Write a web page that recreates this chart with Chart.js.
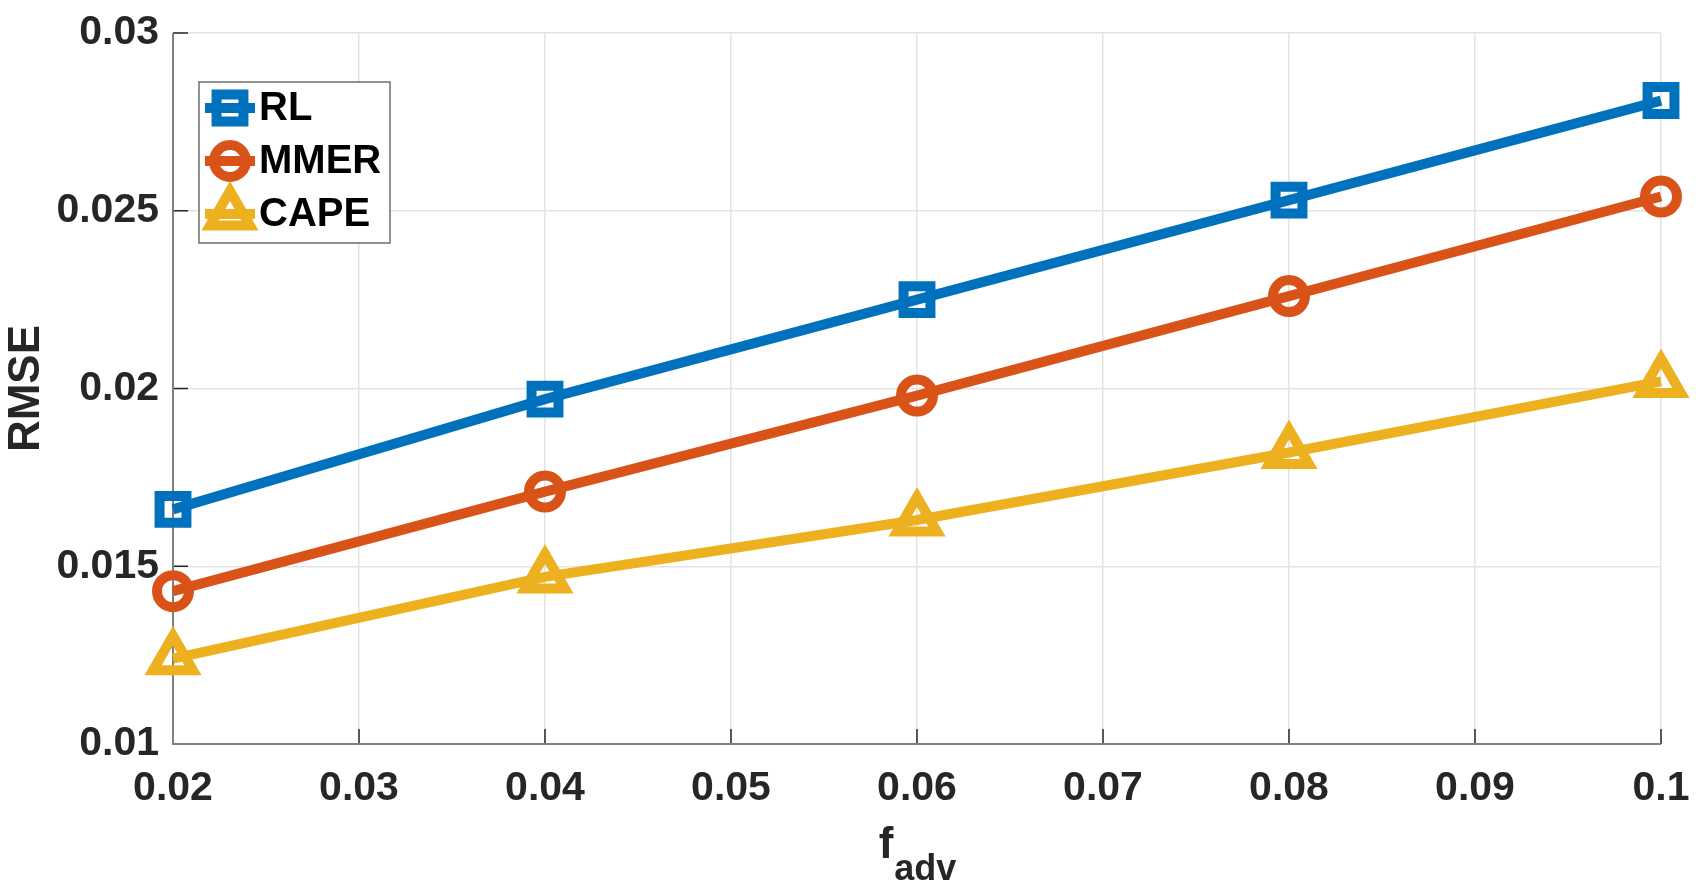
<!DOCTYPE html>
<html lang="en">
<head>
    <meta charset="UTF-8">
    <title>RMSE vs f_adv</title>
    <script src="https://cdn.jsdelivr.net/npm/chart.js"></script>
    <style>
        * {
            margin: 0;
            padding: 0;
            box-sizing: border-box;
        }
        body {
            background: #ffffff;
            width: 1699px;
            height: 887px;
            overflow: hidden;
        }
        #chart {
            display: block;
        }
    </style>
</head>
<body>
    <canvas id="chart" width="1699" height="887"></canvas>
    <script>
        // values
        const fAdv = [0.02, 0.04, 0.06, 0.08, 0.1];
        const rlValues = [0.0166, 0.0197, 0.0225, 0.0253, 0.0281];
        const mmerValues = [0.0143, 0.0171, 0.0198, 0.0226, 0.0254];
        const capeValues = [0.0124, 0.0147, 0.0163, 0.0182, 0.0202];
        const seriesNames = ['RL', 'MMER', 'CAPE'];

        const xTicks = [0.02, 0.03, 0.04, 0.05, 0.06, 0.07, 0.08, 0.09, 0.1];
        const xTickLabels = ['0.02', '0.03', '0.04', '0.05', '0.06', '0.07', '0.08', '0.09', '0.1'];
        const yTicks = [0.01, 0.015, 0.02, 0.025, 0.03];
        const yTickLabels = ['0.01', '0.015', '0.02', '0.025', '0.03'];

        const FONT = "'Liberation Sans', Arial, sans-serif";
        const TXT = '#262626';
        const AXIS = '#7f7f7f';

        function toPoints(ys) {
            return fAdv.map((x, i) => ({ x: x, y: ys[i] }));
        }

        function makeSet(label, values, color, style, radius) {
            return {
                label: label,
                data: toPoints(values),
                borderColor: color,
                backgroundColor: color,
                borderWidth: 10,
                pointStyle: style,
                pointRadius: radius,
                pointHoverRadius: radius,
                pointBorderWidth: 10,
                pointBorderColor: color,
                pointBackgroundColor: 'rgba(0,0,0,0)',
                tension: 0,
                clip: false
            };
        }

        // inward tick marks, like the original figure
        const innerTicks = {
            id: 'innerTicks',
            beforeDatasetsDraw(chart) {
                const ctx = chart.ctx;
                const area = chart.chartArea;
                const xs = chart.scales.x;
                const ys = chart.scales.y;
                ctx.save();
                ctx.strokeStyle = TXT;
                ctx.lineWidth = 1.5;
                ctx.beginPath();
                xTicks.forEach(v => {
                    const px = xs.getPixelForValue(v);
                    ctx.moveTo(px, area.bottom);
                    ctx.lineTo(px, area.bottom - 15);
                });
                yTicks.forEach(v => {
                    const py = ys.getPixelForValue(v);
                    ctx.moveTo(area.left, py);
                    ctx.lineTo(area.left + 15, py);
                });
                ctx.stroke();
                ctx.strokeStyle = AXIS;
                ctx.lineWidth = 2;
                ctx.beginPath();
                ctx.moveTo(area.left, area.top);
                ctx.lineTo(area.left, area.bottom);
                ctx.lineTo(area.right, area.bottom);
                ctx.stroke();
                ctx.restore();
            }
        };

        // x title with subscript: f_adv
        const xTitle = {
            id: 'xTitle',
            afterDraw(chart) {
                const ctx = chart.ctx;
                const area = chart.chartArea;
                const cx = (area.left + area.right) / 2;
                ctx.save();
                ctx.fillStyle = TXT;
                ctx.textBaseline = 'alphabetic';
                ctx.textAlign = 'left';
                ctx.font = 'bold 44px ' + FONT;
                const wf = ctx.measureText('f').width;
                ctx.font = 'bold 36px ' + FONT;
                const ws = ctx.measureText('adv').width;
                const x0 = cx - (wf + ws) / 2;
                ctx.font = 'bold 44px ' + FONT;
                ctx.fillText('f', x0, 858);
                ctx.font = 'bold 36px ' + FONT;
                ctx.fillText('adv', x0 + wf + 1, 880);
                ctx.restore();
            }
        };

        // boxed legend with line + marker samples
        const boxLegend = {
            id: 'boxLegend',
            afterDraw(chart) {
                const ctx = chart.ctx;
                const bx = 199, by = 82, bw = 191, bh = 161;
                const rows = [108, 161, 214];
                ctx.save();
                ctx.fillStyle = '#ffffff';
                ctx.fillRect(bx, by, bw, bh);
                ctx.strokeStyle = '#6e6e6e';
                ctx.lineWidth = 1.5;
                ctx.strokeRect(bx, by, bw, bh);
                chart.data.datasets.forEach((ds, i) => {
                    const y = rows[i];
                    ctx.strokeStyle = ds.borderColor;
                    ctx.lineWidth = ds.borderWidth;
                    ctx.beginPath();
                    ctx.moveTo(205, y);
                    ctx.lineTo(255, y);
                    ctx.stroke();
                    ctx.lineWidth = ds.pointBorderWidth;
                    ctx.fillStyle = 'rgba(0,0,0,0)';
                    Chart.helpers.drawPoint(ctx, { pointStyle: ds.pointStyle, radius: ds.pointRadius, rotation: 0, borderWidth: ds.pointBorderWidth }, 230, y);
                    ctx.fillStyle = '#000000';
                    ctx.font = 'bold 40px ' + FONT;
                    ctx.textBaseline = 'middle';
                    ctx.textAlign = 'left';
                    ctx.fillText(seriesNames[i], 259, y + 1);
                });
                ctx.restore();
            }
        };

        new Chart(document.getElementById('chart'), {
            type: 'line',
            data: {
                datasets: [
                    makeSet(seriesNames[0], rlValues, '#0072BD', 'rect', 19),
                    makeSet(seriesNames[1], mmerValues, '#D95319', 'circle', 16),
                    makeSet(seriesNames[2], capeValues, '#EDB120', 'triangle', 23)
                ]
            },
            options: {
                responsive: false,
                animation: false,
                devicePixelRatio: 1,
                layout: {
                    padding: { top: 30, right: 38, bottom: 0, left: 0 }
                },
                plugins: {
                    legend: { display: false },
                    tooltip: { enabled: false }
                },
                scales: {
                    x: {
                        type: 'linear',
                        min: 0.02,
                        max: 0.1,
                        afterBuildTicks: s => { s.ticks = xTicks.map(v => ({ value: v })); },
                        afterFit: s => {
                            s.height = 143;
                            s.paddingLeft = 0;
                            s.paddingRight = 0;
                        },
                        grid: { color: '#e3e3e3', lineWidth: 1.5, drawTicks: false },
                        border: { display: false },
                        ticks: {
                            padding: 20,
                            maxRotation: 0,
                            autoSkip: false,
                            color: TXT,
                            font: { family: FONT, size: 41, weight: 'bold' },
                            callback: (v, i) => xTickLabels[i]
                        }
                    },
                    y: {
                        type: 'linear',
                        min: 0.01,
                        max: 0.03,
                        afterBuildTicks: s => { s.ticks = yTicks.map(v => ({ value: v })); },
                        afterFit: s => {
                            s.width = 173;
                            s.paddingTop = 0;
                            s.paddingBottom = 0;
                        },
                        grid: { color: '#e3e3e3', lineWidth: 1.5, drawTicks: false },
                        border: { display: false },
                        title: {
                            display: true,
                            text: 'RMSE',
                            color: TXT,
                            padding: 0,
                            font: { family: FONT, size: 44, weight: 'bold' }
                        },
                        ticks: {
                            padding: 14,
                            color: TXT,
                            font: { family: FONT, size: 41, weight: 'bold' },
                            callback: (v, i) => yTickLabels[i]
                        }
                    }
                }
            },
            plugins: [innerTicks, xTitle, boxLegend]
        });
    </script>
</body>
</html>
